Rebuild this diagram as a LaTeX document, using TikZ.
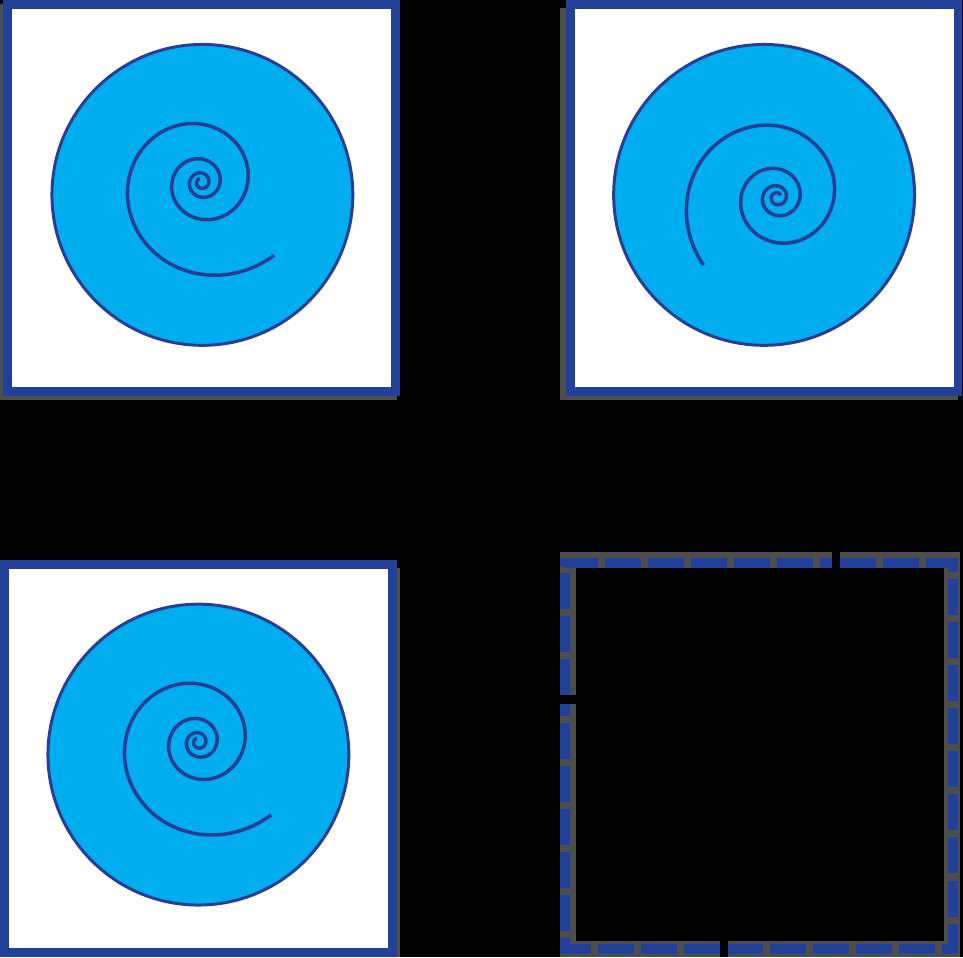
\documentclass[tikz,border=0pt]{standalone}
\usepackage{tikz}
\usepackage{xcolor}
\definecolor{framegray}{RGB}{77,77,77}
\definecolor{frameblue}{RGB}{33,64,154}
\definecolor{discblue}{RGB}{0,174,239}
\definecolor{lineblue}{RGB}{40,62,150}

\begin{document}
\begin{tikzpicture}[x=0.02cm, y=-0.02cm,
    frame/.style={draw=frameblue, line width=5.1pt, fill=white},
    shadow/.style={fill=framegray},
    disc/.style={draw=lineblue, line width=1.7pt, fill=discblue},
    curl/.style={draw=lineblue, line width=2pt},
    dashrim/.style={draw=frameblue, line width=5.7pt, dash pattern=on 20.5pt off 4pt},
    greyrim/.style={draw=framegray, line width=9.1pt}]
  \fill[black] (0,0) rectangle (963,957);
  % Panel 1
  \fill[shadow] (0,4) rectangle (396.5,400);
  \draw[frame] (7.5,4.5) rectangle (395.5,391.5);
  \draw[disc] (202,194.5) circle (150.5);
  \draw[curl, shift={(201,182)}] plot[smooth, samples=400, domain=45:1329]
    (\x:{103*exp(-0.00253*(\x-45))});
  % Panel 2
  \fill[shadow] (560,8) rectangle (958,400);
  \draw[frame] (570,4) rectangle (958,391.5);
  \draw[disc] (764,194.5) circle (150.5);
  \draw[curl, shift={(777,197)}] plot[smooth, samples=400, domain=137.4:1409]
    (\x:{100*exp(-0.00253*(\x-137.4))});
  % Panel 3
  \fill[shadow] (8,568) rectangle (400,957);
  \draw[frame] (4,564.5) rectangle (392.5,952.5);
  \draw[disc] (198,754.5) circle (150.5);
  \draw[curl, shift={(198,742)}] plot[smooth, samples=400, domain=45:1329]
    (\x:{103*exp(-0.00253*(\x-45))});
  % Panel 4 (empty)
  \draw[greyrim] (840,560) -- (952,560) -- (952,949) -- (728,949);
  \draw[greyrim] (720,949) -- (568,949) -- (568,704);
  \draw[greyrim] (568,695) -- (568,560) -- (832,560);
  \draw[dashrim] (840,563) -- (953,563) -- (953,948.5) -- (728,948.5);
  \draw[dashrim] (720,948.5) -- (565,948.5) -- (565,704);
  \draw[dashrim] (565,695) -- (565,563) -- (832,563);
\end{tikzpicture}
\end{document}
